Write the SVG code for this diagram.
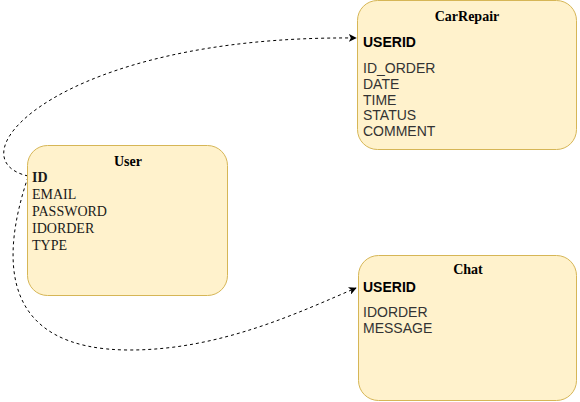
<svg xmlns="http://www.w3.org/2000/svg" width="580" height="402" viewBox="0 0 580 402">
<defs>
<style>
.box{fill:#fff2cc;stroke:#d6b656;stroke-width:1}
.title{font-family:"Liberation Serif",serif;font-size:14px;font-weight:bold;fill:#000;text-anchor:middle}
.serif{font-family:"Liberation Serif",serif;font-size:14px;fill:#1a1a1a}
.sans{font-family:"Liberation Sans",Arial,sans-serif;font-size:14px;fill:#333}
.key{font-family:"Liberation Sans",Arial,sans-serif;font-size:14px;font-weight:bold;fill:#000}
.conn{fill:none;stroke:#000;stroke-width:1;stroke-dasharray:3 3}
</style>
<marker id="arrow" viewBox="0 0 10 10" refX="9" refY="5" markerWidth="8" markerHeight="8" markerUnits="userSpaceOnUse" orient="auto">
<path d="M0,0 L10,5 L0,10 L2.5,5 Z" fill="#000"/>
</marker>
</defs>
<rect width="580" height="402" fill="#fff"/>
<g id="connectors">
<path class="conn" d="M28,176 C -50,158 60,35 356,38" marker-end="url(#arrow)"/>
<path class="conn" d="M28,177 C 0,260 0,350 130,350 C 220,350 300,312 356,288" marker-end="url(#arrow)"/>
</g>
<g id="user">
<rect class="box" x="27.5" y="145.5" width="200" height="150" rx="20" ry="20"/>
<text class="title" x="128" y="166">User</text>
<text class="serif" x="32" y="182" font-weight="bold" fill="#000">ID</text>
<text class="serif" x="32" y="199">EMAIL</text>
<text class="serif" x="32" y="216">PASSWORD</text>
<text class="serif" x="32" y="233">IDORDER</text>
<text class="serif" x="32" y="250">TYPE</text>
</g>
<g id="carrepair">
<rect class="box" x="357.5" y="0.5" width="219" height="149" rx="20" ry="20"/>
<text class="title" x="467" y="21">CarRepair</text>
<text class="key" x="363" y="47">USERID</text>
<text class="sans" x="363" y="73">ID_ORDER</text>
<text class="sans" x="363" y="89">DATE</text>
<text class="sans" x="363" y="105">TIME</text>
<text class="sans" x="363" y="120">STATUS</text>
<text class="sans" x="363" y="136">COMMENT</text>
</g>
<g id="chat">
<rect class="box" x="358.5" y="255.5" width="218" height="145" rx="20" ry="20"/>
<text class="title" x="468" y="274">Chat</text>
<text class="key" x="363" y="292">USERID</text>
<text class="sans" x="363" y="317">IDORDER</text>
<text class="sans" x="363" y="333">MESSAGE</text>
</g>
</svg>
